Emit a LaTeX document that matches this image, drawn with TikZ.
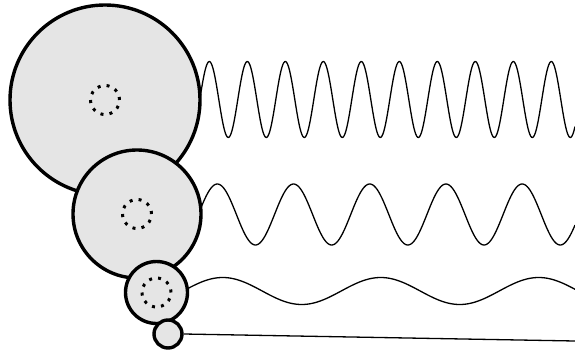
\documentclass[tikz,border=0pt]{standalone}
\usepackage{tikz}
\usetikzlibrary{positioning}
\definecolor{wheelgray}{RGB}{229,229,229}

\begin{document}
\begin{tikzpicture}[
    x=1pt, y=-1pt,
    wheel/.style={circle, draw, fill=wheelgray, line width=3.4pt, inner sep=0pt},
    hub/.style={circle, draw, line width=3pt, inner sep=0pt, minimum size=29pt,
                dash pattern=on 3pt off 6.1pt},
    wave/.style={line width=1.3pt, line join=round},
]
\useasboundingbox (0,0) rectangle (575,350);
% waves behind the wheels
\draw[wave] plot[domain=199:575, samples=400]
    (\x, {99.5 - 38*sin((360/38)*(\x-199.8))});
\draw[wave] plot[domain=200:575, samples=300]
    (\x, {214.5 - 30.5*sin((360/76.2)*(\x-198.3))});
\draw[wave] plot[domain=186:575, samples=200]
    (\x, {291 - 13.5*sin((360/158)*(\x-183.2))});
% wheels, big to small
\node[wheel, minimum size=190pt] (w1) at (105,100) {};
\node[hub] (h1) at (w1.center) {};
\node[wheel, minimum size=128pt] (w2) at (137,214) {};
\node[hub] (h2) at (w2.center) {};
\node[wheel, minimum size=62pt] (w3) at (156.5,292.5) {};
\node[hub] (h3) at (w3.center) {};
\node[wheel, minimum size=28pt] (w4) at (168,334) {};
\coordinate (end4) at (575,341);
\draw[wave] (w4.east) -- (end4);
\end{tikzpicture}
\end{document}
